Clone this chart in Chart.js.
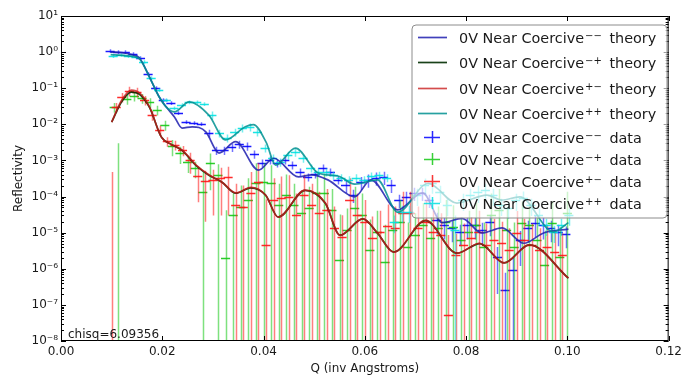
<!DOCTYPE html>
<html><head><meta charset="utf-8">
<script src="https://cdn.jsdelivr.net/npm/chart.js@4.4.1/dist/chart.umd.min.js"></script>
<style>html,body{margin:0;padding:0;background:#fff;}canvas{display:block;}</style>
</head><body>
<canvas id="c" width="686" height="382" style="width:686px;height:382px"></canvas>
<script>
// ---------- axis ticks & labels ----------
const xTicks = [0.00, 0.02, 0.04, 0.06, 0.08, 0.10, 0.12];
const yTickExps = [1, 0, -1, -2, -3, -4, -5, -6, -7, -8];
const seriesBase = '0V Near Coercive';
const seriesSup = ['\u2212\u2212', '\u2212+', '+\u2212', '++'];
const seriesSupUnicode = ['\u207B\u207B', '\u207B\u207A', '\u207A\u207B', '\u207A\u207A'];
const kindWords = ['theory', 'data'];
const chisqText = 'chisq=6.09356';
const dQ = 0.0009;

// ---------- theory curves ----------
const thQmm = [0.0098,0.0120,0.0140,0.0155,0.0175,0.0194,0.0208,0.0224,0.0239,0.0259,0.0286,0.0306,0.0312,0.0345,0.0390,0.0420,0.0469,0.0495,0.0527,0.0580,0.0612,0.0665,0.0714,0.0753,0.0792,0.0831,0.0871,0.0914,0.0953,0.1002];
const thRmm = [1.0,0.97,0.85,0.69,0.20,0.057,0.030,0.016,0.0079,0.0085,0.0062,0.0019,0.0016,0.0033,0.00054,0.00115,0.00035,0.0004,0.00029,0.000098,0.00029,0.000043,0.000126,0.000019,0.000025,0.0000098,0.0000135,0.0000051,0.0000098,0.0000126];

const thQmp = [0.0100,0.0120,0.0139,0.0155,0.0175,0.0198,0.0220,0.0239,0.0267,0.0292,0.0318,0.0345,0.0375,0.0404,0.0429,0.0482,0.0522,0.0551,0.0596,0.0625,0.0657,0.0720,0.0782,0.0827,0.0875,0.0925,0.1002];
const thRmp = [0.0115,0.043,0.078,0.068,0.029,0.0045,0.0027,0.0019,0.00072,0.00039,0.00025,0.000124,0.000175,0.00011,0.000027,0.000148,0.000065,0.0000085,0.000024,0.0000097,0.0000029,0.0000215,0.0000027,0.000005,0.00000145,0.0000046,0.00000055];

const thQpm = [0.0100,0.0120,0.0139,0.0155,0.0175,0.0198,0.0220,0.0239,0.0267,0.0292,0.0318,0.0345,0.0375,0.0404,0.0429,0.0482,0.0522,0.0551,0.0596,0.0625,0.0657,0.0720,0.0782,0.0827,0.0875,0.0925,0.1002];
const thRpm = [0.0115,0.047,0.089,0.074,0.030,0.0045,0.0027,0.00195,0.00074,0.00040,0.00025,0.000126,0.00018,0.00011,0.000027,0.00015,0.000066,0.0000085,0.000024,0.0000098,0.0000029,0.000022,0.0000027,0.0000051,0.00000145,0.0000046,0.00000055];

const thQpp = [0.0098,0.0120,0.0140,0.0155,0.0175,0.0194,0.0208,0.0224,0.0253,0.0292,0.0325,0.0364,0.0380,0.0405,0.0424,0.0463,0.0508,0.0547,0.0580,0.0625,0.0665,0.0725,0.0782,0.0841,0.0870,0.0906,0.0973,0.1002];
const thRpp = [0.85,0.82,0.76,0.65,0.20,0.057,0.030,0.022,0.042,0.018,0.0037,0.0086,0.0098,0.0032,0.00074,0.0022,0.00045,0.00037,0.00022,0.00029,0.000037,0.00023,0.000066,0.00011,0.00008,0.000098,0.0000105,0.000019];

// ---------- measured data (Q, R, dR) ----------
const qMM = [0.0097,0.0112,0.0127,0.0142,0.0157,0.0172,0.0187,0.0202,0.0217,0.0232,0.0247,0.0262,0.0277,0.0292,0.0307,0.0322,0.0337,0.0352,0.0367,0.0382,0.0397,0.0412,0.0427,0.0442,0.0457,0.0472,0.0487,0.0502,0.0517,0.0532,0.0547,0.0562,0.0577,0.0592,0.0607,0.0622,0.0637,0.0652,0.0667,0.0682,0.0697,0.0712,0.0727,0.0742,0.0757,0.0772,0.0787,0.0802,0.0817,0.0832,0.0847,0.0862,0.0877,0.0892,0.0907,0.0922,0.0937,0.0952,0.0967,0.0982,0.0997];
const rMM = [1.07,1.0,1.0,0.89,0.69,0.247,0.101,0.047,0.039,0.0206,0.0116,0.0109,0.0102,0.0057,0.0019,0.0019,0.0023,0.0028,0.0025,0.0015,0.00085,0.00103,0.00085,0.00103,0.00075,0.00048,0.00035,0.00042,0.00062,0.00048,0.00029,0.00021,0.00011,0.00025,0.00029,0.00033,0.00035,0.00021,0.00008,0.000097,0.000125,0.000125,0.00008,0.0000223,0.0000162,0.0000134,0.0000104,0.0000162,0.0000162,0.0000118,0.0000197,0.0000021,2.6e-7,9.2e-7,0.0000062,0.0000134,0.0000185,0.0000162,0.0000134,0.0000104,0.0000092];
const dMM = [0.128,0.12,0.12,0.107,0.083,0.030,0.012,0.0056,0.0047,0.0025,0.0014,0.0013,0.0012,0.0014,0.00048,0.00048,0.00058,0.0007,0.00063,0.00038,0.00021,0.00026,0.00021,0.00026,0.00019,0.00012,0.000088,0.000105,0.000155,0.00012,0.000073,0.000084,0.000044,0.0001,0.000116,0.000132,0.00014,0.000084,0.000032,0.000039,0.00005,0.00005,0.000032,0.0000134,0.0000097,0.000008,0.0000062,0.0000097,0.0000097,0.0000071,0.0000118,0.0000019,5.2e-7,1.1e-6,0.000005,0.000008,0.000011,0.0000097,0.000008,0.0000062,0.0000055];

const qMP = [0.0105,0.0112,0.0130,0.0145,0.0160,0.0175,0.0190,0.0205,0.0220,0.0235,0.0250,0.0265,0.0280,0.0295,0.0310,0.0325,0.0340,0.0355,0.0370,0.0385,0.0400,0.0415,0.0430,0.0445,0.0460,0.0475,0.0490,0.0505,0.0520,0.0535,0.0550,0.0565,0.0580,0.0595,0.0610,0.0625,0.0640,0.0655,0.0670,0.0685,0.0700,0.0715,0.0730,0.0745,0.0760,0.0775,0.0790,0.0805,0.0820,0.0835,0.0850,0.0865,0.0880,0.0895,0.0910,0.0925,0.0940,0.0955,0.0970,0.0985,0.1000];
const rMP = [0.030,-0.001,0.050,0.061,0.053,0.041,0.025,0.0096,0.0025,0.0016,0.0009,0.00062,0.000133,0.00085,0.00039,0.000002,0.000031,0.000051,0.00008,0.00024,0.00025,0.00024,0.000058,0.00011,0.000058,0.000035,0.000048,0.000125,0.000125,0.000042,0.0000017,0.0000118,0.000048,0.000031,0.0000033,0.0000104,0.0000015,0.0000118,0.0000197,0.000004,0.0000086,0.0000162,0.0000071,0.0000134,0.0000197,0.0000143,0.0000062,0.0000104,0.0000162,0.000004,0.000031,0.000042,0.0000118,0.000004,0.0000185,0.0000162,0.0000062,0.0000013,0.0000185,0.0000021,0.000035];
const dMP = [0.009,0.004,0.015,0.018,0.016,0.012,0.0075,0.003,0.0012,0.0008,0.00045,0.0003,0.00035,0.0007,0.0004,0.00004,0.00009,0.00015,0.00024,0.0006,0.0006,0.0005,0.00017,0.0003,0.00017,0.0001,0.00014,0.0003,0.0003,0.00012,0.00003,0.000035,0.00014,0.00009,0.00002,0.00003,0.000015,0.000035,0.00006,0.000015,0.000026,0.00005,0.00002,0.00004,0.00006,0.000043,0.00002,0.00003,0.00005,0.000015,0.00009,0.00012,0.000035,0.000015,0.000055,0.00005,0.00002,0.00001,0.000055,0.000012,0.0001];

const qPM = [0.0100,0.0109,0.0120,0.0135,0.0150,0.0165,0.0180,0.0195,0.0210,0.0225,0.0240,0.0255,0.0270,0.0285,0.0300,0.0315,0.0330,0.0345,0.0360,0.0375,0.0390,0.0405,0.0420,0.0435,0.0450,0.0465,0.0480,0.0495,0.0510,0.0525,0.0540,0.0555,0.0570,0.0585,0.0600,0.0615,0.0630,0.0645,0.0660,0.0675,0.0690,0.0705,0.0720,0.0735,0.0750,0.0765,0.0780,0.0795,0.0810,0.0825,0.0840,0.0855,0.0870,0.0885,0.0900,0.0915,0.0930,0.0945,0.0960,0.0975,0.0990];
const rPM = [-0.0002,0.030,0.057,0.084,0.079,0.047,0.018,0.0070,0.0034,0.0027,0.0019,0.00103,0.00037,0.00027,0.00029,0.00033,0.00035,0.000058,0.000051,0.000125,0.00025,0.0000045,0.00008,0.000091,0.000097,0.000031,0.00011,0.000058,0.000035,0.000042,0.0000134,0.0000076,0.00008,0.000031,0.0000197,0.0000071,0.0000104,0.0000152,0.0000134,0.000035,0.000035,0.0000134,0.0000197,0.0000104,0.0000086,5.2e-8,0.0000024,0.0000045,0.0000071,0.0000104,0.0000045,0.0000062,0.0000052,0.0000033,0.0000098,0.0000062,0.0000045,0.0000033,0.000004,0.0000029,0.0000024];
const dPM = [0.00068,0.009,0.017,0.025,0.024,0.014,0.0054,0.0021,0.001,0.0008,0.0006,0.0006,0.0003,0.00025,0.00026,0.0003,0.00032,0.00017,0.00015,0.00035,0.0006,0.00008,0.00024,0.00027,0.00029,0.00009,0.0003,0.00017,0.0001,0.00012,0.00004,0.000023,0.00024,0.00009,0.00006,0.000021,0.00003,0.000045,0.00004,0.0001,0.0001,0.00004,0.00006,0.00003,0.000026,0.0000085,0.000007,0.0000135,0.00002,0.00003,0.0000135,0.000018,0.000015,0.00001,0.00003,0.000018,0.0000135,0.00001,0.000012,0.0000087,0.0000072];

const qPP = [0.0103,0.0118,0.0133,0.0148,0.0163,0.0178,0.0193,0.0208,0.0223,0.0238,0.0253,0.0268,0.0283,0.0298,0.0313,0.0328,0.0343,0.0358,0.0373,0.0388,0.0403,0.0418,0.0433,0.0448,0.0463,0.0478,0.0493,0.0508,0.0523,0.0538,0.0553,0.0568,0.0583,0.0598,0.0613,0.0628,0.0643,0.0658,0.0673,0.0688,0.0703,0.0718,0.0733,0.0748,0.0763,0.0778,0.0793,0.0808,0.0823,0.0838,0.0853,0.0868,0.0883,0.0898,0.0913,0.0928,0.0943,0.0958,0.0973,0.0988,0.1003];
const rPP = [0.78,0.83,0.78,0.73,0.53,0.19,0.089,0.047,0.028,0.034,0.041,0.041,0.0365,0.018,0.0057,0.0042,0.0061,0.0079,0.0084,0.0061,0.0022,0.00116,0.0009,0.0014,0.0017,0.00116,0.00062,0.00048,0.00048,0.00039,0.00033,0.00029,0.00033,0.00029,0.00037,0.00039,0.00033,0.0000197,0.000037,0.000037,0.00011,0.00021,0.00024,0.000133,0.000058,0.0000118,0.00008,0.00011,0.000133,0.00015,0.00011,0.000058,0.000048,0.00008,0.000091,0.000058,0.000031,0.0000162,0.0000104,0.0000162,0.000031];
const dPP = [0.094,0.10,0.094,0.088,0.064,0.023,0.011,0.0056,0.0034,0.0041,0.0049,0.0049,0.0044,0.0045,0.0014,0.00105,0.0015,0.002,0.0021,0.0015,0.00055,0.00029,0.00023,0.00035,0.00043,0.00029,0.000155,0.00012,0.00012,0.0001,0.000083,0.000073,0.000083,0.000073,0.000093,0.0001,0.000083,0.00001,0.0000185,0.0000185,0.000055,0.000105,0.00012,0.000067,0.000029,0.000018,0.00004,0.000055,0.000067,0.000075,0.000055,0.000029,0.000024,0.00004,0.000046,0.000029,0.0000155,0.0000081,0.0000052,0.0000081,0.0000155];

// ---------- styles ----------
const theoryColors = ['rgba(30,30,175,0.85)', 'rgba(0,45,0,0.9)', 'rgba(200,25,25,0.78)', 'rgba(0,145,145,0.85)'];
const dataRGB = [[0,0,255],[20,200,20],[255,20,20],[0,225,225]];

const theory = [[thQmm,thRmm],[thQmp,thRmp],[thQpm,thRpm],[thQpp,thRpp]];
const measured = [[qMM,rMM,dMM],[qMP,rMP,dMP],[qPM,rPM,dPM],[qPP,rPP,dPP]];

const rgba = (c,a) => `rgba(${c[0]},${c[1]},${c[2]},${a})`;
const supMap = {'-':'\u207B','0':'\u2070','1':'\u00B9','2':'\u00B2','3':'\u00B3','4':'\u2074','5':'\u2075','6':'\u2076','7':'\u2077','8':'\u2078','9':'\u2079'};
const decadeLabel = v => '10' + String(Math.round(Math.log10(v))).split('').map(c => supMap[c]).join('');

const datasets = [];
theory.forEach((t,k) => {
  datasets.push({
    type: 'line', label: seriesBase + seriesSupUnicode[k] + ' ' + kindWords[0],
    data: t[0].map((q,i) => ({x: q, y: t[1][i]})),
    borderColor: theoryColors[k], borderWidth: 1.7, pointRadius: 0, fill: false,
    cubicInterpolationMode: 'monotone', order: 4 - k, legendKind: 0, seriesIndex: k
  });
});
measured.forEach((m,k) => {
  datasets.push({
    type: 'scatter', label: seriesBase + seriesSupUnicode[k] + ' ' + kindWords[1],
    data: m[0].map((q,i) => ({x: q, y: m[1][i]})).filter(p => p.y > 0),
    pointRadius: 0, pointHoverRadius: 0, showLine: false, borderColor: rgba(dataRGB[k],1),
    order: 10, legendKind: 1, seriesIndex: k
  });
});

const errorBarPlugin = {
  id: 'errorBars',
  beforeDatasetsDraw(chart) {
    const {ctx, chartArea: a, scales: {x, y}} = chart;
    ctx.save();
    ctx.beginPath(); ctx.rect(a.left, a.top, a.right - a.left, a.bottom - a.top); ctx.clip();
    chart.data.datasets.forEach((ds, di) => {
      if (ds.legendKind !== 1 || !chart.isDatasetVisible(di)) return;
      const k = ds.seriesIndex, [q, r, d] = measured[k];
      ctx.lineWidth = 1.5;
      ctx.strokeStyle = rgba(dataRGB[k], 0.55);
      ctx.beginPath();
      for (let i = 0; i < q.length; i++) {
        const hi = r[i] + d[i], lo = r[i] - d[i];
        if (hi <= 0) continue;
        const px = Math.round(x.getPixelForValue(q[i])) + 0.5;
        ctx.moveTo(px, y.getPixelForValue(hi));
        ctx.lineTo(px, lo > 0 ? y.getPixelForValue(lo) : a.bottom + 2);
      }
      ctx.stroke();
      ctx.strokeStyle = rgba(dataRGB[k], 0.9);
      ctx.beginPath();
      for (let i = 0; i < q.length; i++) {
        if (r[i] <= 0) continue;
        const py = Math.round(y.getPixelForValue(r[i])) + 0.5;
        ctx.moveTo(x.getPixelForValue(q[i] - dQ), py);
        ctx.lineTo(x.getPixelForValue(q[i] + dQ), py);
      }
      ctx.stroke();
    });
    ctx.restore();
  }
};

const framePlugin = {
  id: 'frameLegend',
  afterDraw(chart) {
    const {ctx, chartArea: a, scales: {x, y}} = chart;
    ctx.save();
    ctx.strokeStyle = '#000'; ctx.lineWidth = 1;
    ctx.strokeRect(a.left + 0.5, a.top + 0.5, a.right - a.left - 1, a.bottom - a.top - 1);
    ctx.beginPath();
    xTicks.forEach(v => {
      const px = Math.round(x.getPixelForValue(v)) + 0.5;
      ctx.moveTo(px, a.bottom); ctx.lineTo(px, a.bottom - 5);
      ctx.moveTo(px, a.top); ctx.lineTo(px, a.top + 5);
    });
    yTickExps.forEach(e => {
      const py = Math.round(y.getPixelForValue(Math.pow(10, e))) + 0.5;
      ctx.moveTo(a.left, py); ctx.lineTo(a.left + 5, py);
      ctx.moveTo(a.right, py); ctx.lineTo(a.right - 5, py);
      if (e > -8) {
        for (let m = 2; m <= 9; m++) {
          const pm = Math.round(y.getPixelForValue(m * Math.pow(10, e - 1))) + 0.5;
          ctx.moveTo(a.left, pm); ctx.lineTo(a.left + 3, pm);
          ctx.moveTo(a.right, pm); ctx.lineTo(a.right - 3, pm);
        }
      }
    });
    ctx.stroke();
    ctx.fillStyle = '#1a1a1a';
    ctx.font = '12px "DejaVu Sans"';
    ctx.textAlign = 'left'; ctx.textBaseline = 'alphabetic';
    ctx.fillText(chisqText, a.left + 7, a.bottom - 3);
    // legend box
    const L = 412, T = 25, R = 667, B = 218, rad = 4;
    ctx.beginPath();
    ctx.moveTo(L + rad, T); ctx.lineTo(R - rad, T); ctx.quadraticCurveTo(R, T, R, T + rad);
    ctx.lineTo(R, B - rad); ctx.quadraticCurveTo(R, B, R - rad, B);
    ctx.lineTo(L + rad, B); ctx.quadraticCurveTo(L, B, L, B - rad);
    ctx.lineTo(L, T + rad); ctx.quadraticCurveTo(L, T, L + rad, T);
    ctx.closePath();
    ctx.fillStyle = 'rgba(255,255,255,0.62)'; ctx.fill();
    ctx.strokeStyle = '#8c8c8c'; ctx.lineWidth = 1; ctx.stroke();
    const rows = [37, 62, 88, 113, 137, 159, 181, 203];
    chart.data.datasets.forEach(ds => {
      const k = ds.seriesIndex, row = rows[ds.legendKind * 4 + k], yy = row + 0.5;
      if (ds.legendKind === 0) {
        ctx.strokeStyle = theoryColors[k]; ctx.lineWidth = 1.7;
        ctx.beginPath(); ctx.moveTo(418, yy); ctx.lineTo(447, yy); ctx.stroke();
      } else {
        ctx.strokeStyle = rgba(dataRGB[k], 0.85); ctx.lineWidth = 1.5;
        ctx.beginPath();
        ctx.moveTo(424, yy); ctx.lineTo(440, yy);
        ctx.moveTo(432.5, row - 6); ctx.lineTo(432.5, row + 6);
        ctx.stroke();
      }
      ctx.fillStyle = '#1a1a1a';
      ctx.textBaseline = 'alphabetic';
      ctx.font = '14.4px "DejaVu Sans"';
      const base = seriesBase, x0 = 459, base_y = row + 5.5;
      ctx.fillText(base, x0, base_y);
      const x1 = x0 + ctx.measureText(base).width + 1;
      ctx.font = '10px "DejaVu Sans"';
      ctx.fillText(seriesSup[k], x1, row + 1.5);
      const x2 = x1 + ctx.measureText(seriesSup[k]).width;
      ctx.font = '14.4px "DejaVu Sans"';
      ctx.fillText(' ' + kindWords[ds.legendKind], x2 + 3, base_y);
    });
    ctx.restore();
  }
};

Chart.defaults.font.family = '"DejaVu Sans"';
Chart.defaults.color = '#1a1a1a';

new Chart(document.getElementById('c'), {
  data: { datasets },
  options: {
    responsive: false, animation: false, devicePixelRatio: 1,
    layout: { padding: { left: 0, right: 13, top: 16, bottom: 0 } },
    plugins: { legend: { display: false }, tooltip: { enabled: false } },
    events: [],
    scales: {
      x: {
        type: 'linear', position: 'bottom', min: 0, max: 0.12,
        afterBuildTicks: s => { s.ticks = xTicks.map(v => ({value: v})); },
        afterFit: s => { s.height = 41; },
        ticks: { callback: v => Number(v).toFixed(2), padding: 4, font: { size: 12 }, color: '#1a1a1a', maxRotation: 0 },
        grid: { display: false, drawTicks: false },
        border: { display: false },
        title: { display: true, text: 'Q (inv Angstroms)', font: { size: 12 }, color: '#1a1a1a', padding: { top: 0, bottom: 6 } }
      },
      y: {
        type: 'logarithmic', position: 'left', min: 1e-8, max: 10,
        afterBuildTicks: s => { s.ticks = yTickExps.map(e => ({value: Math.pow(10, e)})); },
        afterFit: s => { s.width = 61; },
        ticks: { callback: v => decadeLabel(v), padding: 3, font: { size: 12 }, color: '#1a1a1a' },
        grid: { display: false, drawTicks: false },
        border: { display: false },
        title: { display: true, text: 'Reflectivity', font: { size: 12 }, color: '#1a1a1a', padding: { top: 12, bottom: 0 } }
      }
    }
  },
  plugins: [errorBarPlugin, framePlugin]
});
</script>
</body></html>
